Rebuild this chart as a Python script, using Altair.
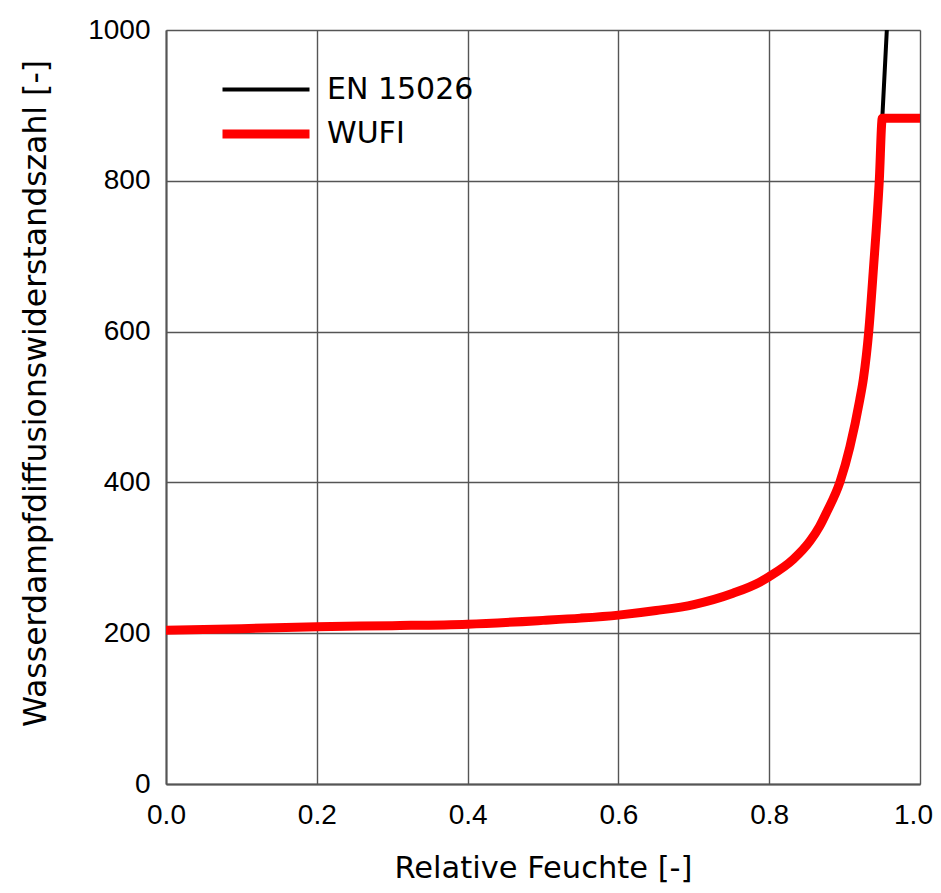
import altair as alt
import pandas as pd

# Relative humidity values (x) and diffusion resistance factor (y)
rh_wufi = [0.0, 0.1, 0.2, 0.3, 0.4, 0.5, 0.55, 0.6, 0.65, 0.7, 0.752, 0.788, 0.8,
           0.832, 0.854, 0.867, 0.876, 0.894, 0.907, 0.92, 0.925, 0.932, 0.938,
           0.946, 0.95, 1.0]
mu_wufi = [204, 206, 208.6, 210, 212, 217, 220, 224, 230, 238, 253, 268, 275,
           298, 322, 342, 360, 401, 447, 509, 538, 600, 680, 800, 883, 883]

rh_en = [0.0, 0.1, 0.2, 0.3, 0.4, 0.5, 0.55, 0.6, 0.65, 0.7, 0.752, 0.788, 0.8,
         0.832, 0.854, 0.867, 0.876, 0.894, 0.907, 0.92, 0.925, 0.932, 0.938,
         0.946, 0.95, 0.956]
mu_en = [204, 206, 208.6, 210, 212, 217, 220, 224, 230, 238, 253, 268, 275,
         298, 322, 342, 360, 401, 447, 509, 538, 600, 680, 800, 883, 1000]

series_names = ["EN 15026", "WUFI"]
series_colors = ["#000000", "#ff0000"]
series_widths = [4, 9]

x_ticks = [0.0, 0.2, 0.4, 0.6, 0.8, 1.0]
y_ticks = [0, 200, 400, 600, 800, 1000]

df = pd.concat([
    pd.DataFrame({"rh": rh_en, "mu": mu_en, "series": series_names[0], "order": range(len(rh_en))}),
    pd.DataFrame({"rh": rh_wufi, "mu": mu_wufi, "series": series_names[1], "order": range(len(rh_wufi))}),
])

grid_style = dict(grid=True, gridColor="#555555", gridWidth=1.4, gridOpacity=1,
                  domain=True, domainColor="#555555", domainWidth=2, ticks=False,
                  labelColor="#000000", titleColor="#000000", labelFlush=False,
                  labelFont="Liberation Sans", labelFontSize=28,
                  titleFont="DejaVu Sans", titleFontWeight="normal")

chart = alt.Chart(df).mark_line(clip=True, strokeCap="round", strokeJoin="round", interpolate="monotone").encode(
    x=alt.X("rh:Q", scale=alt.Scale(domain=[0, 1], nice=False),
            axis=alt.Axis(values=x_ticks, format=".1f", title="Relative Feuchte [-]",
                          titleY=93, titleBaseline="alphabetic", titleFontSize=30.5,
                          labelOffset={"condition": {"test": "datum.value >= 1", "value": -7}, "value": 0},
                          labelPadding=17, **grid_style)),
    y=alt.Y("mu:Q", scale=alt.Scale(domain=[0, 1000], nice=False),
            axis=alt.Axis(values=y_ticks, format="d", title="Wasserdampfdiffusionswiderstandszahl [-]",
                          titleX=-121, titleY=363, titleBaseline="alphabetic", titleAngle=-90,
                          titleFontSize=31.5, labelPadding=16, **grid_style)),
    color=alt.Color("series:N", scale=alt.Scale(domain=series_names, range=series_colors),
                    legend=alt.Legend(title=None, orient="none", legendX=81, legendY=43,
                                      symbolType="M-3,0H3", symbolSize=841,
                                      labelFont="DejaVu Sans", labelFontSize=30,
                                      labelOffset=42, rowPadding=10, padding=0,
                                      labelColor="#000000")),
    strokeWidth=alt.StrokeWidth("series:N", scale=alt.Scale(domain=series_names, range=series_widths),
                                legend=None),
    order="order:Q",
    detail="series:N",
).properties(
    width=754, height=754,
    autosize=alt.AutoSizeParams(type="none"),
    padding={"left": 158, "top": 22, "right": 13, "bottom": 100},
).configure_view(
    stroke="#555555", strokeWidth=2,
).configure(background="#ffffff")

chart.save("out.html", embed_options={"renderer": "svg", "actions": False})
